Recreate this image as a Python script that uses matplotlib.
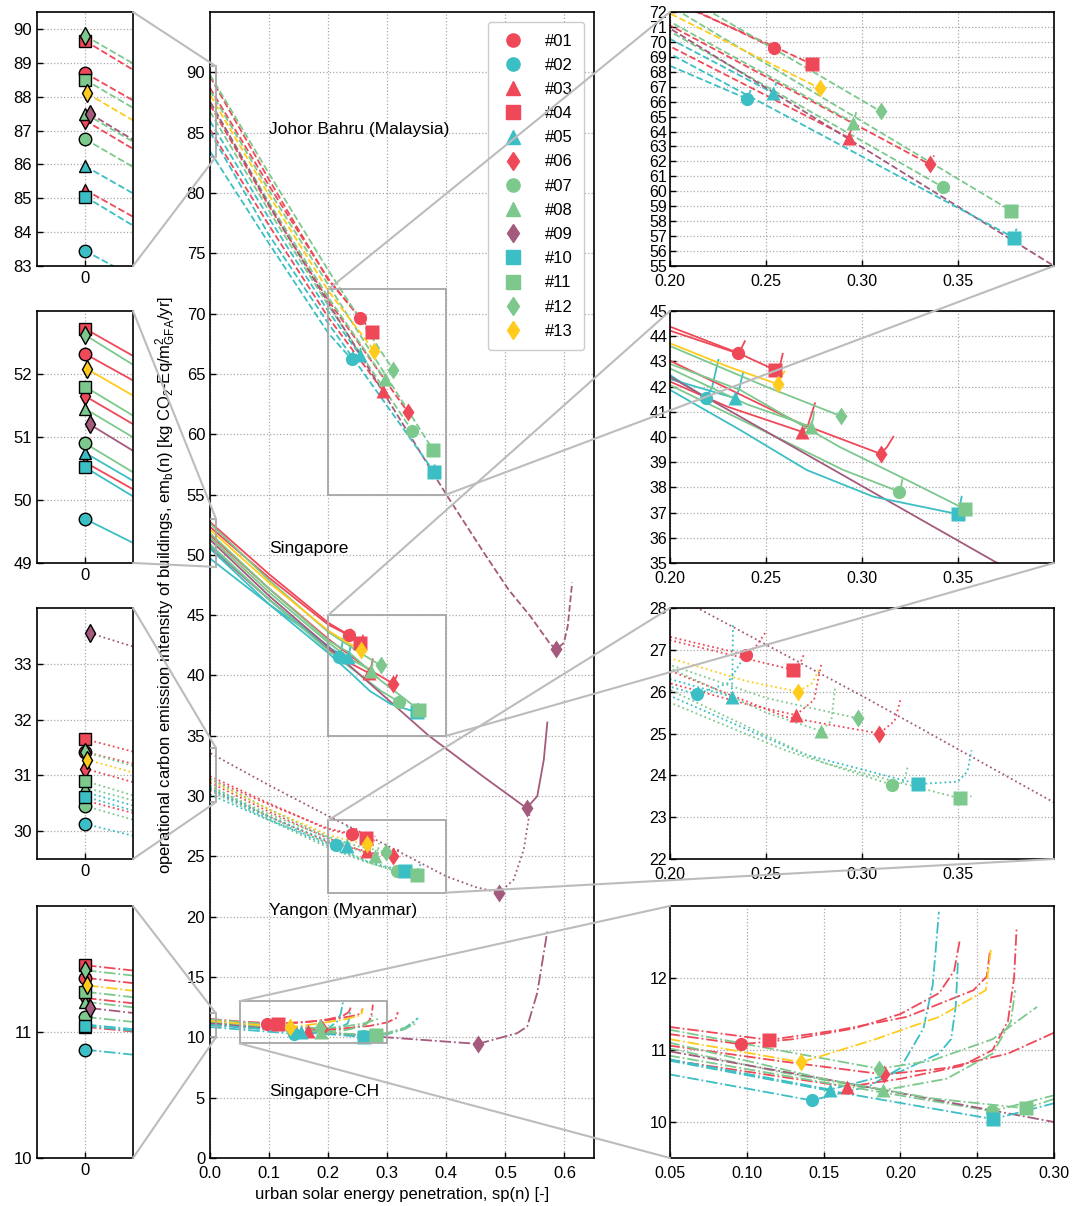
import matplotlib
matplotlib.use('Agg')
import matplotlib.pyplot as plt
from matplotlib.patches import Rectangle, ConnectionPatch
from matplotlib.lines import Line2D

plt.rcParams['font.family'] = ['Liberation Sans', 'DejaVu Sans']
plt.rcParams['mathtext.fontset'] = 'custom'
plt.rcParams['mathtext.rm'] = 'Liberation Sans'
plt.rcParams['mathtext.it'] = 'Liberation Sans:italic'
plt.rcParams['font.size'] = 12

# buildings
labels = ['#01', '#02', '#03', '#04', '#05', '#06', '#07', '#08', '#09', '#10', '#11', '#12', '#13']
RED, TEAL, GREEN, MAUVE, YELLOW = '#EF4858', '#3CBFC4', '#7DC98D', '#A45A7D', '#FFCB1C'
colors = [RED, TEAL, RED, RED, TEAL, RED, GREEN, GREEN, MAUVE, TEAL, GREEN, GREEN, YELLOW]
markers = ['o', 'o', '^', 's', '^', 'd', 'o', '^', 'd', 's', 's', 'd', 'd']

# ---- Johor Bahru (Malaysia), dashed ----
jb_x = [[0, 0.1, 0.2, 0.254],
        [0, 0.1, 0.2, 0.24, 0.2425],
        [0, 0.1, 0.2, 0.293, 0.2945],
        [0, 0.1, 0.2, 0.254, 0.274],
        [0, 0.1, 0.2, 0.2535, 0.2555],
        [0, 0.1, 0.2, 0.3354, 0.3375],
        [0, 0.1, 0.2, 0.3424],
        [0, 0.1, 0.2, 0.2955, 0.297],
        [0.001, 0.1, 0.2, 0.3, 0.4, 0.466, 0.5056, 0.5424, 0.576, 0.5864, 0.599, 0.6056, 0.613],
        [0, 0.1, 0.2, 0.379, 0.3805],
        [0, 0.1, 0.2, 0.3776],
        [0, 0.1, 0.2, 0.3097],
        [0.0004, 0.1, 0.2, 0.278]]
jb_y = [[88.7, 80.6, 72.9, 69.6],
        [83.45, 75.8, 68.4, 66.2, 66.9],
        [85.25, 77.3, 69.7, 63.6, 64.2],
        [89.65, 81.1, 72.8, 69.7, 68.5],
        [85.95, 77.9, 70.2, 66.6, 67.3],
        [87.3, 78.9, 71.1, 61.8, 62.4],
        [86.75, 78.5, 70.7, 60.26],
        [87.5, 79.2, 71.35, 64.6, 65.3],
        [87.5, 79.0, 70.9, 62.95, 55.0, 50.0, 47.1, 44.9, 42.6, 42.2, 42.7, 44.1, 47.7],
        [85.05, 76.5, 69.2, 56.9, 57.5],
        [88.5, 80.2, 72.4, 58.7],
        [89.8, 81.6, 73.6, 65.35],
        [88.1, 79.8, 71.9, 66.9]]
jb_mx = [0.254, 0.24, 0.293, 0.274, 0.2535, 0.3354, 0.3424, 0.2955, 0.5864, 0.379, 0.3776, 0.3097, 0.278]
jb_my = [69.6, 66.2, 63.6, 68.5, 66.6, 61.8, 60.26, 64.6, 42.2, 56.9, 58.7, 65.35, 66.9]

# ---- Singapore, solid ----
sg_x = [[0, 0.1, 0.2, 0.2353, 0.237, 0.239],
        [0, 0.1, 0.2, 0.2188, 0.222, 0.2252],
        [0, 0.1, 0.2, 0.23, 0.2686, 0.272, 0.2755],
        [0, 0.1, 0.2, 0.235, 0.2547, 0.2575, 0.2587],
        [0, 0.1, 0.2, 0.2339, 0.236, 0.238],
        [0, 0.1, 0.2, 0.2677, 0.3097, 0.313, 0.3163],
        [0, 0.1, 0.2, 0.25, 0.29, 0.3194, 0.3205, 0.321],
        [0, 0.1, 0.2, 0.24, 0.2733, 0.2745, 0.275],
        [0.001, 0.1, 0.2, 0.3693, 0.463, 0.536, 0.554, 0.565, 0.571],
        [0, 0.1, 0.2, 0.2365, 0.2712, 0.306, 0.3498, 0.351, 0.3519],
        [0, 0.1, 0.2, 0.2365, 0.2885, 0.3233, 0.3536],
        [0, 0.1, 0.2, 0.25, 0.289],
        [0.0004, 0.1, 0.2, 0.23, 0.2564, 0.258, 0.2596]]
sg_y = [[52.32, 48.1, 44.22, 43.32, 43.5, 43.8],
        [49.7, 45.9, 42.46, 41.54, 42.0, 43.06],
        [50.6, 46.3, 42.2, 41.2, 40.21, 40.5, 41.34],
        [52.72, 48.4, 44.38, 43.35, 42.66, 42.9, 43.3],
        [50.75, 46.3, 42.3, 41.54, 41.9, 42.53],
        [51.65, 47.2, 43.03, 40.54, 39.33, 39.6, 40.01],
        [50.9, 46.3, 42.06, 40.2, 38.7, 37.83, 38.1, 38.3],
        [51.45, 46.9, 42.72, 41.3, 40.41, 40.7, 41.0],
        [51.2, 46.6, 42.39, 35.05, 31.6, 29.0, 30.0, 33.0, 36.1],
        [50.52, 45.9, 41.87, 40.28, 38.69, 37.63, 36.94, 37.3, 37.63],
        [51.8, 47.2, 42.9, 41.87, 39.6, 38.3, 37.14],
        [52.62, 47.9, 43.61, 42.0, 40.83],
        [52.08, 47.7, 43.72, 42.8, 42.09, 42.4, 42.6]]
sg_mx = [0.2353, 0.2188, 0.2686, 0.2547, 0.2339, 0.3097, 0.3194, 0.2733, 0.536, 0.3498, 0.3536, 0.289, 0.2564]
sg_my = [43.32, 41.54, 40.21, 42.66, 41.54, 39.33, 37.83, 40.41, 29.0, 36.94, 37.14, 40.83, 42.09]

# ---- Yangon (Myanmar), dotted ----
yg_x = [[0, 0.1, 0.2, 0.2396, 0.245, 0.2495],
        [0, 0.1, 0.2, 0.2139, 0.23, 0.2396],
        [0, 0.1, 0.2, 0.24, 0.2655, 0.275, 0.279],
        [0, 0.1, 0.2, 0.2642, 0.268, 0.27],
        [0, 0.1, 0.2, 0.2321, 0.2326, 0.2328],
        [0, 0.1, 0.2, 0.26, 0.309, 0.317, 0.32],
        [0, 0.1, 0.2, 0.26, 0.3158, 0.322, 0.324],
        [0, 0.1, 0.2, 0.25, 0.2786, 0.284, 0.286],
        [0.001, 0.1, 0.2, 0.3, 0.4, 0.45, 0.49, 0.514, 0.531, 0.542],
        [0, 0.1, 0.2, 0.27, 0.3293, 0.35, 0.355, 0.357],
        [0, 0.1, 0.2, 0.28, 0.351, 0.357],
        [0, 0.1, 0.2, 0.25, 0.298],
        [0.0004, 0.1, 0.2, 0.24, 0.2665, 0.274, 0.278]]
yg_y = [[31.42, 29.3, 27.31, 26.88, 27.1, 27.4],
        [30.13, 28.0, 26.12, 25.94, 26.2, 26.9],
        [30.55, 28.3, 26.2, 25.7, 25.44, 25.8, 26.7],
        [31.65, 29.4, 27.23, 26.52, 26.7, 26.92],
        [30.7, 28.3, 26.3, 25.88, 26.6, 27.6],
        [31.12, 28.7, 26.5, 25.4, 25.0, 25.3, 25.8],
        [30.45, 28.0, 25.74, 24.6, 23.77, 23.85, 24.25],
        [30.78, 28.5, 26.56, 25.5, 25.06, 25.3, 26.1],
        [33.55, 30.9, 28.35, 25.9, 23.35, 22.45, 22.0, 23.07, 25.56, 28.9],
        [30.62, 28.1, 25.9, 24.5, 23.79, 23.85, 24.1, 24.6],
        [30.9, 28.3, 26.04, 24.3, 23.45, 23.5],
        [31.42, 28.9, 26.64, 25.85, 25.36],
        [31.28, 28.9, 26.8, 26.25, 26.0, 26.2, 26.56]]
yg_mx = [0.2396, 0.2139, 0.2655, 0.2642, 0.2321, 0.309, 0.3158, 0.2786, 0.49, 0.3293, 0.351, 0.298, 0.2665]
yg_my = [26.88, 25.94, 25.44, 26.52, 25.88, 25.0, 23.77, 25.06, 22.0, 23.79, 23.45, 25.36, 26.0]

# ---- Singapore-CH, dash-dot ----
ch_x = [[0, 0.05, 0.0962, 0.13, 0.17, 0.2, 0.2252, 0.235, 0.2387],
        [0, 0.05, 0.1422, 0.18, 0.2, 0.215, 0.221, 0.2251],
        [0, 0.05, 0.1655, 0.2, 0.24, 0.26, 0.27, 0.274, 0.2757],
        [0, 0.05, 0.1147, 0.1607, 0.2041, 0.2475, 0.2562, 0.2584],
        [0, 0.05, 0.1542, 0.2, 0.225, 0.233, 0.236, 0.2375],
        [0, 0.05, 0.12, 0.1895, 0.23, 0.27, 0.3, 0.315, 0.318],
        [0, 0.05, 0.15, 0.2598, 0.3, 0.33, 0.345],
        [0, 0.05, 0.12, 0.1885, 0.23, 0.26, 0.272, 0.2747],
        [0.001, 0.05, 0.15, 0.3, 0.4537, 0.52, 0.537, 0.554, 0.571],
        [0, 0.05, 0.15, 0.2605, 0.3, 0.33, 0.352],
        [0, 0.05, 0.15, 0.22, 0.2817, 0.3, 0.33, 0.35],
        [0, 0.05, 0.12, 0.1863, 0.22, 0.26, 0.289],
        [0.0004, 0.05, 0.1353, 0.1824, 0.2252, 0.2556, 0.2589]]
ch_y = [[11.43, 11.22, 11.08, 11.15, 11.3, 11.5, 11.79, 12.1, 12.53],
        [10.86, 10.66, 10.3, 10.5, 10.75, 11.3, 11.9, 12.92],
        [11.04, 10.86, 10.49, 10.6, 10.78, 11.0, 11.4, 12.0, 12.71],
        [11.53, 11.32, 11.14, 11.28, 11.46, 11.83, 12.02, 12.39],
        [11.06, 10.87, 10.45, 10.7, 10.95, 11.15, 11.6, 12.25],
        [11.27, 11.06, 10.85, 10.66, 10.75, 10.95, 11.24, 11.6, 12.1],
        [11.12, 10.92, 10.55, 10.15, 10.37, 10.8, 11.3],
        [11.24, 11.02, 10.7, 10.44, 10.6, 10.95, 11.4, 11.83],
        [11.19, 10.98, 10.6, 10.0, 9.46, 10.35, 10.9, 13.7, 18.8],
        [11.05, 10.85, 10.45, 10.04, 10.26, 10.7, 11.6],
        [11.32, 11.1, 10.6, 10.33, 10.19, 10.32, 10.7, 11.2],
        [11.49, 11.28, 11.0, 10.74, 10.85, 11.15, 11.6],
        [11.37, 11.15, 10.83, 11.14, 11.46, 11.83, 12.39]]
ch_mx = [0.0962, 0.1422, 0.1655, 0.1147, 0.1542, 0.1895, 0.2598, 0.1885, 0.4537, 0.2605, 0.2817, 0.1863, 0.1353]
ch_my = [11.08, 10.3, 10.49, 11.14, 10.45, 10.66, 10.15, 10.44, 9.46, 10.04, 10.19, 10.74, 10.83]

cities = [(jb_x, jb_y, jb_mx, jb_my, '--'),
          (sg_x, sg_y, sg_mx, sg_my, '-'),
          (yg_x, yg_y, yg_mx, yg_my, ':'),
          (ch_x, ch_y, ch_mx, ch_my, '-.')]

W, H = 1073, 1206
fig = plt.figure(figsize=(W / 100, H / 100), dpi=100)


def box(x0, y0, x1, y1):
    return [x0 / W, 1 - y1 / H, (x1 - x0) / W, (y1 - y0) / H]


GRID = dict(ls=':', color='#a9a9a9', lw=0.9)


def style(ax, size=12):
    ax.tick_params(direction='in', length=4, width=1, labelsize=size)
    ax.grid(True, **GRID)
    for s in ax.spines.values():
        s.set_linewidth(1.2)


def draw_curves(ax, start_markers=False):
    for xs, ys, mx, my, ls in cities:
        for i in range(13):
            ax.plot(xs[i], ys[i], ls=ls, color=colors[i], lw=1.3)
        for i in range(13):
            if start_markers:
                ax.plot(xs[i][0], ys[i][0], marker=markers[i], color=colors[i], ms=9,
                        mec='black', mew=1.0, ls='none', zorder=3)
            else:
                ax.plot(mx[i], my[i], marker=markers[i], color=colors[i], ms=9.5,
                        mec='none', ls='none', zorder=3)


# main axes
ax = fig.add_axes(box(210, 12, 594, 1158))
draw_curves(ax)
ax.set_xlim(0, 0.65)
ax.set_ylim(0, 95)
ax.set_xticks([0, 0.1, 0.2, 0.3, 0.4, 0.5, 0.6])
ax.set_xticklabels(['0.0', '0.1', '0.2', '0.3', '0.4', '0.5', '0.6'])
ax.set_yticks(range(0, 95, 5))
style(ax)
ax.tick_params(axis='x', pad=6)
ax.set_xlabel('urban solar energy penetration, sp(n) [-]', fontsize=12, labelpad=4)
ax.set_ylabel(r'operational carbon emission intensity of buildings, em$_\mathrm{b}$(n) '
              r'[kg CO$_\mathrm{2}$-Eq/m$^\mathrm{2}_\mathrm{GFA}$/yr]', fontsize=12, labelpad=6)
ax.text(0.1, 85.3, 'Johor Bahru (Malaysia)', fontsize=12.5, va='center')
ax.text(0.1, 50.5, 'Singapore', fontsize=12.5, va='center')
ax.text(0.1, 20.5, 'Yangon (Myanmar)', fontsize=12.5, va='center')
ax.text(0.1, 5.5, 'Singapore-CH', fontsize=12.5, va='center')

handles = [Line2D([], [], ls='none', marker=markers[i], color=colors[i], ms=9.5) for i in range(13)]
ax.legend(handles, labels, loc='upper right', fontsize=12, labelspacing=0.55,
          handletextpad=1.1, borderpad=0.7, handlelength=1.6, framealpha=1,
          edgecolor='#cccccc', borderaxespad=0.6)

# zoom boxes in the main axes
RECT = '#a6a6a6'
right_boxes = [(0.2, 0.4, 55, 72), (0.2, 0.4, 35, 45), (0.2, 0.4, 22, 28), (0.05, 0.3, 9.5, 13)]
left_boxes = [(83, 90.5), (49, 53), (29.5, 34), (10, 12)]
for x0, x1, y0, y1 in right_boxes:
    ax.add_patch(Rectangle((x0, y0), x1 - x0, y1 - y0, fill=False, ec=RECT, lw=1.3, zorder=4))
for y0, y1 in left_boxes:
    ax.add_patch(Rectangle((-0.01, y0), 0.02, y1 - y0, fill=False, ec=RECT, lw=1.3, zorder=4))

rows = [(12, 266), (311, 563), (608, 859), (906, 1158)]
CONN = '#bcbcbc'


def connect(axa, pa, axb, pb):
    con = ConnectionPatch(xyA=pa, coordsA=axa.transData, xyB=pb, coordsB=axb.transData,
                          color=CONN, lw=1.5, zorder=5)
    fig.add_artist(con)


# right insets
right_yticks = [range(55, 73), range(35, 46), range(22, 29), [10, 11, 12]]
for k, (t, b) in enumerate(rows):
    x0, x1, y0, y1 = right_boxes[k]
    a = fig.add_axes(box(670, t, 1054, b))
    draw_curves(a)
    a.set_xlim(x0, x1)
    a.set_ylim(y0, y1)
    if k < 3:
        a.set_xticks([0.2, 0.25, 0.3, 0.35])
        a.set_xticklabels(['0.20', '0.25', '0.30', '0.35'])
    else:
        a.set_xticks([0.05, 0.1, 0.15, 0.2, 0.25, 0.3])
        a.set_xticklabels(['0.05', '0.10', '0.15', '0.20', '0.25', '0.30'])
    a.set_yticks(list(right_yticks[k]))
    style(a, size=11.5)
    a.tick_params(axis='y', pad=2)
    a.tick_params(axis='x', pad=6)
    if k < 3:
        connect(ax, (x0, y1), a, (x0, y1))
        connect(ax, (x1, y0), a, (x1, y0))
    else:
        connect(ax, (x0, y1), a, (x0, y1))
        connect(ax, (x0, y0), a, (x0, y0))

# left insets
left_yticks = [range(83, 91), range(49, 53), range(30, 34), [10, 11]]
for k, (t, b) in enumerate(rows):
    y0, y1 = left_boxes[k]
    a = fig.add_axes(box(37, t, 133, b))
    draw_curves(a, start_markers=True)
    a.set_xlim(-0.01, 0.01)
    a.set_ylim(y0, y1)
    a.set_xticks([0])
    a.set_xticklabels(['0'])
    a.set_yticks(list(left_yticks[k]))
    style(a)
    connect(ax, (0.01, y1), a, (0.01, y1))
    connect(ax, (0.01, y0), a, (0.01, y0))

fig.savefig('out.png', dpi=100)
